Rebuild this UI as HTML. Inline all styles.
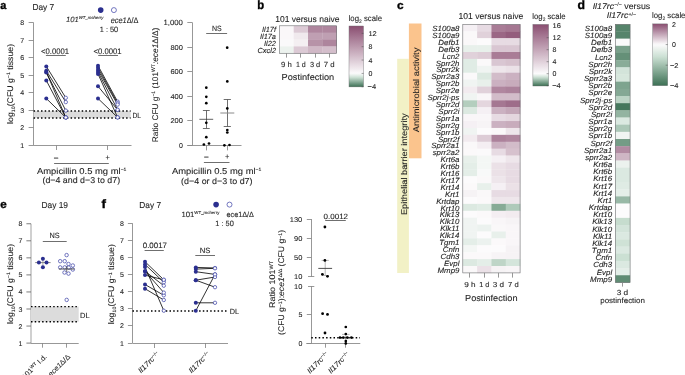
<!DOCTYPE html><html><head><meta charset="utf-8"><style>html,body{margin:0;padding:0;background:#fff;overflow:hidden}svg{display:block} text{filter:grayscale(1);text-rendering:geometricPrecision;stroke:#231f20;stroke-width:0.1px} text.pl{stroke:#000;stroke-width:0.35px}</style></head><body><svg width="685" height="375" viewBox="0 0 685 375" font-family='"Liberation Sans", sans-serif'>
<defs>
<linearGradient id="gc" x1="0" y1="0" x2="0" y2="1"><stop offset="0.000" stop-color="#8a4e71"/><stop offset="0.025" stop-color="#8e5375"/><stop offset="0.050" stop-color="#91597a"/><stop offset="0.075" stop-color="#955e7e"/><stop offset="0.100" stop-color="#986482"/><stop offset="0.125" stop-color="#9c6987"/><stop offset="0.150" stop-color="#9f6e8b"/><stop offset="0.175" stop-color="#a3748f"/><stop offset="0.200" stop-color="#a67994"/><stop offset="0.225" stop-color="#aa7f98"/><stop offset="0.250" stop-color="#ae849c"/><stop offset="0.275" stop-color="#b189a1"/><stop offset="0.300" stop-color="#b58fa5"/><stop offset="0.325" stop-color="#b894a9"/><stop offset="0.350" stop-color="#bc9aae"/><stop offset="0.375" stop-color="#bf9fb2"/><stop offset="0.400" stop-color="#c3a4b6"/><stop offset="0.425" stop-color="#c7aabb"/><stop offset="0.450" stop-color="#caafbf"/><stop offset="0.475" stop-color="#ceb5c4"/><stop offset="0.500" stop-color="#d1bac8"/><stop offset="0.525" stop-color="#d5c0cc"/><stop offset="0.550" stop-color="#d8c5d1"/><stop offset="0.575" stop-color="#dccad5"/><stop offset="0.600" stop-color="#e0d0d9"/><stop offset="0.625" stop-color="#e3d5de"/><stop offset="0.650" stop-color="#e7dbe2"/><stop offset="0.675" stop-color="#eae0e6"/><stop offset="0.700" stop-color="#eee5eb"/><stop offset="0.725" stop-color="#f1ebef"/><stop offset="0.750" stop-color="#f5f0f3"/><stop offset="0.775" stop-color="#f8f6f8"/><stop offset="0.800" stop-color="#fcfbfc"/><stop offset="0.825" stop-color="#e8f0eb"/><stop offset="0.850" stop-color="#d3e4da"/><stop offset="0.875" stop-color="#bcd4c5"/><stop offset="0.900" stop-color="#a2c0af"/><stop offset="0.925" stop-color="#89ac98"/><stop offset="0.950" stop-color="#6f9881"/><stop offset="0.975" stop-color="#56846b"/><stop offset="1.000" stop-color="#3c7054"/></linearGradient>
<linearGradient id="gb" x1="0" y1="0" x2="0" y2="1"><stop offset="0.000" stop-color="#8a4e71"/><stop offset="0.025" stop-color="#8e5475"/><stop offset="0.050" stop-color="#91597a"/><stop offset="0.075" stop-color="#955f7e"/><stop offset="0.100" stop-color="#996483"/><stop offset="0.125" stop-color="#9c6a87"/><stop offset="0.150" stop-color="#a06f8c"/><stop offset="0.175" stop-color="#a47590"/><stop offset="0.200" stop-color="#a77a95"/><stop offset="0.225" stop-color="#ab8099"/><stop offset="0.250" stop-color="#af869e"/><stop offset="0.275" stop-color="#b28ba2"/><stop offset="0.300" stop-color="#b691a7"/><stop offset="0.325" stop-color="#ba96ab"/><stop offset="0.350" stop-color="#bd9caf"/><stop offset="0.375" stop-color="#c1a1b4"/><stop offset="0.400" stop-color="#c5a7b8"/><stop offset="0.425" stop-color="#c8acbd"/><stop offset="0.450" stop-color="#ccb2c1"/><stop offset="0.475" stop-color="#d0b7c6"/><stop offset="0.500" stop-color="#d3bdca"/><stop offset="0.525" stop-color="#d7c3cf"/><stop offset="0.550" stop-color="#dac8d3"/><stop offset="0.575" stop-color="#deced8"/><stop offset="0.600" stop-color="#e2d3dc"/><stop offset="0.625" stop-color="#e5d9e1"/><stop offset="0.650" stop-color="#e9dee5"/><stop offset="0.675" stop-color="#ede4e9"/><stop offset="0.700" stop-color="#f0e9ee"/><stop offset="0.725" stop-color="#f4eff2"/><stop offset="0.750" stop-color="#f8f5f7"/><stop offset="0.775" stop-color="#fbfafb"/><stop offset="0.800" stop-color="#ecf2ef"/><stop offset="0.825" stop-color="#dae8e0"/><stop offset="0.850" stop-color="#c7ddcf"/><stop offset="0.875" stop-color="#b0cabb"/><stop offset="0.900" stop-color="#98b8a6"/><stop offset="0.925" stop-color="#81a692"/><stop offset="0.950" stop-color="#6a947d"/><stop offset="0.975" stop-color="#538269"/><stop offset="1.000" stop-color="#3c7054"/></linearGradient>
<linearGradient id="gd" x1="0" y1="0" x2="0" y2="1"><stop offset="0.000" stop-color="#8a4e71"/><stop offset="0.025" stop-color="#935b7b"/><stop offset="0.050" stop-color="#9b6886"/><stop offset="0.075" stop-color="#a47590"/><stop offset="0.100" stop-color="#ac829b"/><stop offset="0.125" stop-color="#b58fa5"/><stop offset="0.150" stop-color="#bd9cb0"/><stop offset="0.175" stop-color="#c6a9ba"/><stop offset="0.200" stop-color="#ceb6c4"/><stop offset="0.225" stop-color="#d7c3cf"/><stop offset="0.250" stop-color="#e0d0d9"/><stop offset="0.275" stop-color="#e8dde4"/><stop offset="0.300" stop-color="#f1eaee"/><stop offset="0.325" stop-color="#f9f7f9"/><stop offset="0.350" stop-color="#f8f9f9"/><stop offset="0.375" stop-color="#f2f5f3"/><stop offset="0.400" stop-color="#ecf2ee"/><stop offset="0.425" stop-color="#e6efe9"/><stop offset="0.450" stop-color="#dfebe4"/><stop offset="0.475" stop-color="#d9e8df"/><stop offset="0.500" stop-color="#d3e4da"/><stop offset="0.525" stop-color="#cde1d5"/><stop offset="0.550" stop-color="#c6dcce"/><stop offset="0.575" stop-color="#bed6c8"/><stop offset="0.600" stop-color="#b7d0c1"/><stop offset="0.625" stop-color="#afcaba"/><stop offset="0.650" stop-color="#a7c4b3"/><stop offset="0.675" stop-color="#a0beac"/><stop offset="0.700" stop-color="#98b8a6"/><stop offset="0.725" stop-color="#90b29f"/><stop offset="0.750" stop-color="#89ac98"/><stop offset="0.775" stop-color="#81a691"/><stop offset="0.800" stop-color="#79a08a"/><stop offset="0.825" stop-color="#729a84"/><stop offset="0.850" stop-color="#6a947d"/><stop offset="0.875" stop-color="#628e76"/><stop offset="0.900" stop-color="#5b886f"/><stop offset="0.925" stop-color="#538268"/><stop offset="0.950" stop-color="#4b7c62"/><stop offset="0.975" stop-color="#44765b"/><stop offset="1.000" stop-color="#3c7054"/></linearGradient>
</defs>
<rect width="685" height="375" fill="white"/>
<text x="0.30" y="8.80" font-size="11.3" font-weight="bold" fill="#000" class="pl" textLength="6.10" lengthAdjust="spacingAndGlyphs">a</text>
<text x="32.45" y="10.10" font-size="8.59" font-weight="normal" fill="#231f20" textLength="21.80" lengthAdjust="spacingAndGlyphs">Day 7</text>
<circle cx="100.70" cy="10.10" r="2.8" fill="#2b2f8f"/>
<circle cx="113.90" cy="10.10" r="2.5" fill="white" stroke="#3a3fa5" stroke-width="0.7"/>
<text x="65.95" y="22.30" font-size="7.63" font-weight="normal" fill="#231f20" font-style="italic" textLength="37.50" lengthAdjust="spacingAndGlyphs">101<tspan font-size="4.3" dy="-3.6">WT_mcherry</tspan></text>
<text x="110.65" y="22.60" font-size="8.06" font-weight="normal" fill="#231f20" textLength="27.90" lengthAdjust="spacingAndGlyphs"><tspan font-style="italic">ece1</tspan>Δ/Δ</text>
<text x="99.75" y="31.50" font-size="7.63" font-weight="normal" fill="#231f20" textLength="18.40" lengthAdjust="spacingAndGlyphs">1 : 50</text>
<line x1="33.50" y1="22.58" x2="33.50" y2="145.50" stroke="#858585" stroke-width="0.85" />
<line x1="28.60" y1="145.50" x2="33.60" y2="145.50" stroke="#858585" stroke-width="0.85" />
<text x="24.20" y="148.00" font-size="7.0" text-anchor="end" fill="#231f20" >1</text>
<line x1="28.60" y1="127.50" x2="33.60" y2="127.50" stroke="#858585" stroke-width="0.85" />
<text x="24.20" y="130.44" font-size="7.0" text-anchor="end" fill="#231f20" >2</text>
<line x1="28.60" y1="110.50" x2="33.60" y2="110.50" stroke="#858585" stroke-width="0.85" />
<text x="24.20" y="112.88" font-size="7.0" text-anchor="end" fill="#231f20" >3</text>
<line x1="28.60" y1="92.50" x2="33.60" y2="92.50" stroke="#858585" stroke-width="0.85" />
<text x="24.20" y="95.32" font-size="7.0" text-anchor="end" fill="#231f20" >4</text>
<line x1="28.60" y1="75.50" x2="33.60" y2="75.50" stroke="#858585" stroke-width="0.85" />
<text x="24.20" y="77.76" font-size="7.0" text-anchor="end" fill="#231f20" >5</text>
<line x1="28.60" y1="57.50" x2="33.60" y2="57.50" stroke="#858585" stroke-width="0.85" />
<text x="24.20" y="60.20" font-size="7.0" text-anchor="end" fill="#231f20" >6</text>
<line x1="28.60" y1="40.50" x2="33.60" y2="40.50" stroke="#858585" stroke-width="0.85" />
<text x="24.20" y="42.64" font-size="7.0" text-anchor="end" fill="#231f20" >7</text>
<line x1="28.60" y1="22.50" x2="33.60" y2="22.50" stroke="#858585" stroke-width="0.85" />
<text x="24.20" y="25.08" font-size="7.0" text-anchor="end" fill="#231f20" >8</text>
<line x1="33.60" y1="145.50" x2="131.50" y2="145.50" stroke="#858585" stroke-width="0.85" />
<rect x="33.60" y="111.00" width="97.00" height="6.90" fill="#dcdcdc" />
<line x1="33.60" y1="111.00" x2="130.60" y2="111.00" stroke="#000" stroke-width="1.45" stroke-dasharray="1.5,2.2"/>
<line x1="33.60" y1="117.90" x2="130.60" y2="117.90" stroke="#000" stroke-width="1.45" stroke-dasharray="1.5,2.2"/>
<text x="132.45" y="117.60" font-size="7.42" font-weight="normal" fill="#231f20" textLength="8.60" lengthAdjust="spacingAndGlyphs">DL</text>
<line x1="56.50" y1="145.50" x2="56.50" y2="150.00" stroke="#858585" stroke-width="0.85" />
<line x1="107.50" y1="145.50" x2="107.50" y2="150.00" stroke="#858585" stroke-width="0.85" />
<text x="56.00" y="159.70" font-size="7.5" text-anchor="middle" fill="#231f20" >–</text>
<text x="107.80" y="159.90" font-size="7.5" text-anchor="middle" fill="#231f20" >+</text>
<line x1="54.10" y1="163.50" x2="108.80" y2="163.50" stroke="#555" stroke-width="0.85" />
<text x="36.95" y="173.60" font-size="8.59" font-weight="normal" fill="#231f20" textLength="89.50" lengthAdjust="spacingAndGlyphs">Ampicillin 0.5 mg ml<tspan font-size="4.6" dy="-2.8">−1</tspan></text>
<text x="42.45" y="183.40" font-size="8.59" font-weight="normal" fill="#231f20" textLength="77.70" lengthAdjust="spacingAndGlyphs">(d−4 and d−3 to d7)</text>
<text transform="translate(13.00,83.90) rotate(-90)" font-size="8.2" text-anchor="middle" fill="#231f20" textLength="80.00" lengthAdjust="spacingAndGlyphs">log<tspan font-size="5" dy="1.8">10</tspan><tspan dy="-1.8">(CFU g</tspan><tspan font-size="5" dy="-2.8">−1</tspan><tspan dy="2.8"> tissue)</tspan></text>
<text x="41.05" y="53.70" font-size="8.06" font-weight="normal" fill="#231f20" textLength="28.10" lengthAdjust="spacingAndGlyphs">&lt;0.0001</text>
<line x1="45.90" y1="55.50" x2="65.80" y2="55.50" stroke="#555" stroke-width="0.85" />
<text x="93.55" y="53.70" font-size="8.06" font-weight="normal" fill="#231f20" textLength="28.10" lengthAdjust="spacingAndGlyphs">&lt;0.0001</text>
<line x1="98.20" y1="55.50" x2="118.00" y2="55.50" stroke="#555" stroke-width="0.85" />
<line x1="46.30" y1="66.40" x2="65.80" y2="97.80" stroke="#000" stroke-width="0.8" />
<line x1="46.30" y1="70.70" x2="65.80" y2="102.10" stroke="#000" stroke-width="0.8" />
<line x1="46.30" y1="72.10" x2="65.80" y2="117.50" stroke="#000" stroke-width="0.8" />
<line x1="46.30" y1="72.50" x2="65.80" y2="110.60" stroke="#000" stroke-width="0.8" />
<line x1="46.30" y1="80.50" x2="65.80" y2="117.50" stroke="#000" stroke-width="0.8" />
<line x1="46.30" y1="98.50" x2="65.80" y2="117.50" stroke="#000" stroke-width="0.8" />
<circle cx="65.80" cy="97.80" r="1.7" fill="white" stroke="#3a3fa5" stroke-width="0.7"/>
<circle cx="65.80" cy="102.10" r="1.7" fill="white" stroke="#3a3fa5" stroke-width="0.7"/>
<circle cx="65.80" cy="117.50" r="1.7" fill="white" stroke="#3a3fa5" stroke-width="0.7"/>
<circle cx="65.80" cy="110.60" r="1.7" fill="white" stroke="#3a3fa5" stroke-width="0.7"/>
<circle cx="65.80" cy="117.50" r="1.7" fill="white" stroke="#3a3fa5" stroke-width="0.7"/>
<circle cx="65.80" cy="117.50" r="1.7" fill="white" stroke="#3a3fa5" stroke-width="0.7"/>
<circle cx="46.30" cy="66.40" r="2.0" fill="#2b2f8f"/>
<circle cx="46.30" cy="70.70" r="2.0" fill="#2b2f8f"/>
<circle cx="46.30" cy="72.10" r="2.0" fill="#2b2f8f"/>
<circle cx="46.30" cy="72.50" r="2.0" fill="#2b2f8f"/>
<circle cx="46.30" cy="80.50" r="2.0" fill="#2b2f8f"/>
<circle cx="46.30" cy="98.50" r="2.0" fill="#2b2f8f"/>
<line x1="98.00" y1="65.70" x2="117.60" y2="101.60" stroke="#000" stroke-width="0.8" />
<line x1="98.00" y1="67.80" x2="117.60" y2="103.20" stroke="#000" stroke-width="0.8" />
<line x1="98.00" y1="70.00" x2="117.60" y2="104.60" stroke="#000" stroke-width="0.8" />
<line x1="98.00" y1="72.00" x2="117.60" y2="109.80" stroke="#000" stroke-width="0.8" />
<line x1="98.00" y1="73.90" x2="117.60" y2="117.40" stroke="#000" stroke-width="0.8" />
<line x1="98.00" y1="86.30" x2="117.60" y2="109.80" stroke="#000" stroke-width="0.8" />
<line x1="98.00" y1="98.50" x2="117.60" y2="117.40" stroke="#000" stroke-width="0.8" />
<circle cx="117.60" cy="101.60" r="1.7" fill="white" stroke="#3a3fa5" stroke-width="0.7"/>
<circle cx="117.60" cy="103.20" r="1.7" fill="white" stroke="#3a3fa5" stroke-width="0.7"/>
<circle cx="117.60" cy="104.60" r="1.7" fill="white" stroke="#3a3fa5" stroke-width="0.7"/>
<circle cx="117.60" cy="109.80" r="1.7" fill="white" stroke="#3a3fa5" stroke-width="0.7"/>
<circle cx="117.60" cy="117.40" r="1.7" fill="white" stroke="#3a3fa5" stroke-width="0.7"/>
<circle cx="117.60" cy="109.80" r="1.7" fill="white" stroke="#3a3fa5" stroke-width="0.7"/>
<circle cx="117.60" cy="117.40" r="1.7" fill="white" stroke="#3a3fa5" stroke-width="0.7"/>
<circle cx="98.00" cy="65.70" r="2.0" fill="#2b2f8f"/>
<circle cx="98.00" cy="67.80" r="2.0" fill="#2b2f8f"/>
<circle cx="98.00" cy="70.00" r="2.0" fill="#2b2f8f"/>
<circle cx="98.00" cy="72.00" r="2.0" fill="#2b2f8f"/>
<circle cx="98.00" cy="73.90" r="2.0" fill="#2b2f8f"/>
<circle cx="98.00" cy="86.30" r="2.0" fill="#2b2f8f"/>
<circle cx="98.00" cy="98.50" r="2.0" fill="#2b2f8f"/>
<line x1="192.50" y1="22.35" x2="192.50" y2="145.60" stroke="#858585" stroke-width="0.85" />
<line x1="187.30" y1="145.50" x2="192.10" y2="145.50" stroke="#858585" stroke-width="0.85" />
<text x="182.90" y="148.10" font-size="7.0" text-anchor="end" fill="#231f20" >0</text>
<line x1="187.30" y1="120.50" x2="192.10" y2="120.50" stroke="#858585" stroke-width="0.85" />
<text x="182.90" y="123.45" font-size="7.0" text-anchor="end" fill="#231f20"  textLength="12.50" lengthAdjust="spacingAndGlyphs">200</text>
<line x1="187.30" y1="96.50" x2="192.10" y2="96.50" stroke="#858585" stroke-width="0.85" />
<text x="182.90" y="98.80" font-size="7.0" text-anchor="end" fill="#231f20"  textLength="12.50" lengthAdjust="spacingAndGlyphs">400</text>
<line x1="187.30" y1="71.50" x2="192.10" y2="71.50" stroke="#858585" stroke-width="0.85" />
<text x="182.90" y="74.15" font-size="7.0" text-anchor="end" fill="#231f20"  textLength="12.50" lengthAdjust="spacingAndGlyphs">600</text>
<line x1="187.30" y1="47.50" x2="192.10" y2="47.50" stroke="#858585" stroke-width="0.85" />
<text x="182.90" y="49.50" font-size="7.0" text-anchor="end" fill="#231f20"  textLength="12.50" lengthAdjust="spacingAndGlyphs">800</text>
<text x="163.45" y="25.20" font-size="7.53" font-weight="normal" fill="#231f20" textLength="19.40" lengthAdjust="spacingAndGlyphs">1,000</text>
<line x1="187.30" y1="22.50" x2="192.10" y2="22.50" stroke="#858585" stroke-width="0.85" />
<line x1="187.30" y1="145.50" x2="241.50" y2="145.50" stroke="#858585" stroke-width="0.85" />
<line x1="206.50" y1="145.60" x2="206.50" y2="150.40" stroke="#858585" stroke-width="0.85" />
<line x1="227.50" y1="145.60" x2="227.50" y2="150.40" stroke="#858585" stroke-width="0.85" />
<text x="206.40" y="159.20" font-size="7.5" text-anchor="middle" fill="#231f20" >–</text>
<text x="227.30" y="159.40" font-size="7.5" text-anchor="middle" fill="#231f20" >+</text>
<line x1="203.90" y1="162.50" x2="229.50" y2="162.50" stroke="#555" stroke-width="0.85" />
<text x="171.95" y="173.90" font-size="8.59" font-weight="normal" fill="#231f20" textLength="89.40" lengthAdjust="spacingAndGlyphs">Ampicillin 0.5 mg ml<tspan font-size="4.6" dy="-2.8">−1</tspan></text>
<text x="181.05" y="183.60" font-size="8.59" font-weight="normal" fill="#231f20" textLength="71.50" lengthAdjust="spacingAndGlyphs">(d−4 or d−3 to d7)</text>
<text x="212.05" y="30.80" font-size="7.63" font-weight="normal" fill="#231f20" textLength="9.70" lengthAdjust="spacingAndGlyphs">NS</text>
<line x1="206.20" y1="33.50" x2="227.10" y2="33.50" stroke="#555" stroke-width="0.85" />
<text transform="translate(157.50,84.90) rotate(-90)" font-size="8.2" text-anchor="middle" fill="#231f20" textLength="114.60" lengthAdjust="spacingAndGlyphs">Ratio CFU g<tspan font-size="5" dy="-2.8">−1</tspan><tspan dy="2.8"> (101</tspan><tspan font-size="5" dy="-2.8">WT</tspan><tspan dy="2.8" font-style="italic">:ece1</tspan><tspan>Δ/Δ)</tspan></text>
<line x1="206.50" y1="110.30" x2="206.50" y2="128.30" stroke="#555" stroke-width="0.85" />
<line x1="202.90" y1="110.50" x2="209.70" y2="110.50" stroke="#555" stroke-width="0.85" />
<line x1="202.90" y1="128.50" x2="209.70" y2="128.50" stroke="#555" stroke-width="0.85" />
<line x1="199.40" y1="119.30" x2="213.20" y2="119.30" stroke="#3a3a3a" stroke-width="0.8" />
<circle cx="206.30" cy="87.70" r="1.35" fill="#000"/>
<circle cx="206.30" cy="96.80" r="1.35" fill="#000"/>
<circle cx="206.30" cy="103.20" r="1.35" fill="#000"/>
<circle cx="206.30" cy="122.80" r="1.35" fill="#000"/>
<circle cx="206.30" cy="137.20" r="1.35" fill="#000"/>
<circle cx="203.90" cy="144.50" r="1.35" fill="#000"/>
<circle cx="209.00" cy="143.50" r="1.35" fill="#000"/>
<line x1="227.50" y1="99.40" x2="227.50" y2="126.50" stroke="#555" stroke-width="0.85" />
<line x1="223.70" y1="99.50" x2="230.90" y2="99.50" stroke="#555" stroke-width="0.85" />
<line x1="223.70" y1="126.50" x2="230.90" y2="126.50" stroke="#555" stroke-width="0.85" />
<line x1="220.30" y1="113.00" x2="234.30" y2="113.00" stroke="#8a8a8a" stroke-width="1.0" />
<circle cx="227.20" cy="47.70" r="1.35" fill="#000"/>
<circle cx="227.30" cy="81.40" r="1.35" fill="#000"/>
<circle cx="227.30" cy="108.40" r="1.35" fill="#000"/>
<circle cx="227.30" cy="130.00" r="1.35" fill="#000"/>
<circle cx="227.30" cy="132.50" r="1.35" fill="#000"/>
<circle cx="224.40" cy="145.30" r="1.35" fill="#000"/>
<circle cx="229.50" cy="145.00" r="1.35" fill="#000"/>
<text x="257.30" y="8.90" font-size="12.2" font-weight="bold" fill="#000" class="pl" textLength="6.90" lengthAdjust="spacingAndGlyphs">b</text>
<text x="275.25" y="21.70" font-size="8.59" font-weight="normal" fill="#231f20" textLength="64.30" lengthAdjust="spacingAndGlyphs">101 versus naive</text>
<rect x="279.40" y="25.80" width="14.60" height="7.17" fill="#faf7f9" />
<rect x="293.70" y="25.80" width="14.60" height="7.17" fill="#dccad5" />
<rect x="308.00" y="25.80" width="14.60" height="7.17" fill="#af869e" />
<rect x="322.30" y="25.80" width="14.60" height="7.17" fill="#af869e" />
<rect x="279.40" y="32.67" width="14.60" height="7.17" fill="#faf7f9" />
<rect x="293.70" y="32.67" width="14.60" height="7.17" fill="#f0e9ed" />
<rect x="308.00" y="32.67" width="14.60" height="7.17" fill="#bf9fb2" />
<rect x="322.30" y="32.67" width="14.60" height="7.17" fill="#bf9fb2" />
<rect x="279.40" y="39.54" width="14.60" height="7.17" fill="#faf9fa" />
<rect x="293.70" y="39.54" width="14.60" height="7.17" fill="#f4eff2" />
<rect x="308.00" y="39.54" width="14.60" height="7.17" fill="#b793a8" />
<rect x="322.30" y="39.54" width="14.60" height="7.17" fill="#ae859d" />
<rect x="279.40" y="46.41" width="14.60" height="7.17" fill="#ecf2ee" />
<rect x="293.70" y="46.41" width="14.60" height="7.17" fill="#dccad5" />
<rect x="308.00" y="46.41" width="14.60" height="7.17" fill="#d0b8c6" />
<rect x="322.30" y="46.41" width="14.60" height="7.17" fill="#d4becb" />
<rect x="279.4" y="25.8" width="57.2" height="27.48" fill="none" stroke="#6d6e71" stroke-width="0.6"/>
<text x="262.01" y="31.93" font-size="7.4" font-style="italic" fill="#1a1a1a" textLength="13.99" lengthAdjust="spacingAndGlyphs">Il17f</text>
<text x="259.95" y="38.81" font-size="7.4" font-style="italic" fill="#1a1a1a" textLength="16.05" lengthAdjust="spacingAndGlyphs">Il17a</text>
<text x="264.07" y="45.68" font-size="7.4" font-style="italic" fill="#1a1a1a" textLength="11.93" lengthAdjust="spacingAndGlyphs">Il22</text>
<text x="257.50" y="52.55" font-size="7.4" font-style="italic" fill="#1a1a1a" textLength="18.50" lengthAdjust="spacingAndGlyphs">Cxcl2</text>
<line x1="286.50" y1="53.28" x2="286.50" y2="57.60" stroke="#858585" stroke-width="0.85" />
<text x="281.05" y="66.80" font-size="7.42" font-weight="normal" fill="#231f20" textLength="10.80" lengthAdjust="spacingAndGlyphs">9 h</text>
<line x1="300.50" y1="53.28" x2="300.50" y2="57.60" stroke="#858585" stroke-width="0.85" />
<text x="295.95" y="66.80" font-size="7.42" font-weight="normal" fill="#231f20" textLength="9.80" lengthAdjust="spacingAndGlyphs">1 d</text>
<line x1="315.50" y1="53.28" x2="315.50" y2="57.60" stroke="#858585" stroke-width="0.85" />
<text x="309.95" y="66.80" font-size="7.42" font-weight="normal" fill="#231f20" textLength="10.30" lengthAdjust="spacingAndGlyphs">3 d</text>
<line x1="329.50" y1="53.28" x2="329.50" y2="57.60" stroke="#858585" stroke-width="0.85" />
<text x="323.85" y="66.80" font-size="7.42" font-weight="normal" fill="#231f20" textLength="10.80" lengthAdjust="spacingAndGlyphs">7 d</text>
<text x="281.55" y="80.00" font-size="8.69" font-weight="normal" fill="#231f20" textLength="52.60" lengthAdjust="spacingAndGlyphs">Postinfection</text>
<rect x="349.00" y="26.00" width="14.50" height="60.90" fill="url(#gb)" />
<rect x="349" y="26" width="14.5" height="60.9" fill="none" stroke="#6d6e71" stroke-width="0.4"/>
<line x1="361.60" y1="33.32" x2="363.50" y2="33.32" stroke="#444" stroke-width="0.5" />
<text x="368.40" y="35.82" font-size="7" text-anchor="start" fill="#231f20"  textLength="8.33" lengthAdjust="spacingAndGlyphs">12</text>
<line x1="361.60" y1="46.68" x2="363.50" y2="46.68" stroke="#444" stroke-width="0.5" />
<text x="368.40" y="49.18" font-size="7" text-anchor="start" fill="#231f20" >8</text>
<line x1="361.60" y1="60.04" x2="363.50" y2="60.04" stroke="#444" stroke-width="0.5" />
<text x="368.40" y="62.54" font-size="7" text-anchor="start" fill="#231f20" >4</text>
<line x1="361.60" y1="73.40" x2="363.50" y2="73.40" stroke="#444" stroke-width="0.5" />
<text x="368.40" y="75.90" font-size="7" text-anchor="start" fill="#231f20" >0</text>
<line x1="361.60" y1="86.76" x2="363.50" y2="86.76" stroke="#444" stroke-width="0.5" />
<text x="367.60" y="89.26" font-size="7" text-anchor="start" fill="#231f20"  textLength="8.54" lengthAdjust="spacingAndGlyphs">−4</text>
<text x="348.65" y="20.70" font-size="8.06" font-weight="normal" fill="#231f20" textLength="33.40" lengthAdjust="spacingAndGlyphs">log<tspan font-size="5" dy="1.8">2</tspan><tspan dy="-1.8"> scale</tspan></text>
<text x="397.00" y="9.20" font-size="11.3" font-weight="bold" fill="#000" class="pl" textLength="6.60" lengthAdjust="spacingAndGlyphs">c</text>
<text x="458.55" y="19.00" font-size="8.59" font-weight="normal" fill="#231f20" textLength="64.80" lengthAdjust="spacingAndGlyphs">101 versus naive</text>
<rect x="462.80" y="24.40" width="14.62" height="7.20" fill="#f5f0f4" />
<rect x="477.12" y="24.40" width="14.62" height="7.20" fill="#e7dbe3" />
<rect x="491.44" y="24.40" width="14.62" height="7.20" fill="#a97c96" />
<rect x="505.76" y="24.40" width="14.62" height="7.20" fill="#a57792" />
<rect x="462.80" y="31.30" width="14.62" height="7.20" fill="#faf8f9" />
<rect x="477.12" y="31.30" width="14.62" height="7.20" fill="#e0d1da" />
<rect x="491.44" y="31.30" width="14.62" height="7.20" fill="#9b6785" />
<rect x="505.76" y="31.30" width="14.62" height="7.20" fill="#945d7d" />
<rect x="462.80" y="38.21" width="14.62" height="7.20" fill="#faf8f9" />
<rect x="477.12" y="38.21" width="14.62" height="7.20" fill="#fcfbfc" />
<rect x="491.44" y="38.21" width="14.62" height="7.20" fill="#e7dbe3" />
<rect x="505.76" y="38.21" width="14.62" height="7.20" fill="#e7dbe3" />
<rect x="462.80" y="45.11" width="14.62" height="7.20" fill="#e8f0eb" />
<rect x="477.12" y="45.11" width="14.62" height="7.20" fill="#e8f0eb" />
<rect x="491.44" y="45.11" width="14.62" height="7.20" fill="#d9c6d2" />
<rect x="505.76" y="45.11" width="14.62" height="7.20" fill="#d9c6d2" />
<rect x="462.80" y="52.01" width="14.62" height="7.20" fill="#e0d1da" />
<rect x="477.12" y="52.01" width="14.62" height="7.20" fill="#ddccd6" />
<rect x="491.44" y="52.01" width="14.62" height="7.20" fill="#a97c96" />
<rect x="505.76" y="52.01" width="14.62" height="7.20" fill="#a97c96" />
<rect x="462.80" y="58.91" width="14.62" height="7.20" fill="#e0ece5" />
<rect x="477.12" y="58.91" width="14.62" height="7.20" fill="#fbf9fa" />
<rect x="491.44" y="58.91" width="14.62" height="7.20" fill="#d9c6d2" />
<rect x="505.76" y="58.91" width="14.62" height="7.20" fill="#d6c1cd" />
<rect x="462.80" y="65.82" width="14.62" height="7.20" fill="#e0ece5" />
<rect x="477.12" y="65.82" width="14.62" height="7.20" fill="#f0f4f2" />
<rect x="491.44" y="65.82" width="14.62" height="7.20" fill="#eee6eb" />
<rect x="505.76" y="65.82" width="14.62" height="7.20" fill="#ebe1e7" />
<rect x="462.80" y="72.72" width="14.62" height="7.20" fill="#fbf9fa" />
<rect x="477.12" y="72.72" width="14.62" height="7.20" fill="#dce9e1" />
<rect x="491.44" y="72.72" width="14.62" height="7.20" fill="#d2bcc9" />
<rect x="505.76" y="72.72" width="14.62" height="7.20" fill="#cbb1c1" />
<rect x="462.80" y="79.62" width="14.62" height="7.20" fill="#f0f4f2" />
<rect x="477.12" y="79.62" width="14.62" height="7.20" fill="#e8f0eb" />
<rect x="491.44" y="79.62" width="14.62" height="7.20" fill="#cbb1c1" />
<rect x="505.76" y="79.62" width="14.62" height="7.20" fill="#c8acbc" />
<rect x="462.80" y="86.53" width="14.62" height="7.20" fill="#f2ebef" />
<rect x="477.12" y="86.53" width="14.62" height="7.20" fill="#e0d1da" />
<rect x="491.44" y="86.53" width="14.62" height="7.20" fill="#b0879f" />
<rect x="505.76" y="86.53" width="14.62" height="7.20" fill="#ac829b" />
<rect x="462.80" y="93.43" width="14.62" height="7.20" fill="#f0f4f2" />
<rect x="477.12" y="93.43" width="14.62" height="7.20" fill="#f9f6f8" />
<rect x="491.44" y="93.43" width="14.62" height="7.20" fill="#d2bcc9" />
<rect x="505.76" y="93.43" width="14.62" height="7.20" fill="#d2bcc9" />
<rect x="462.80" y="100.33" width="14.62" height="7.20" fill="#b4cebe" />
<rect x="477.12" y="100.33" width="14.62" height="7.20" fill="#e4d6de" />
<rect x="491.44" y="100.33" width="14.62" height="7.20" fill="#a57792" />
<rect x="505.76" y="100.33" width="14.62" height="7.20" fill="#9e6d8a" />
<rect x="462.80" y="107.23" width="14.62" height="7.20" fill="#dce9e1" />
<rect x="477.12" y="107.23" width="14.62" height="7.20" fill="#f5f0f4" />
<rect x="491.44" y="107.23" width="14.62" height="7.20" fill="#cbb1c1" />
<rect x="505.76" y="107.23" width="14.62" height="7.20" fill="#c4a7b8" />
<rect x="462.80" y="114.14" width="14.62" height="7.20" fill="#f9f6f8" />
<rect x="477.12" y="114.14" width="14.62" height="7.20" fill="#f9f6f8" />
<rect x="491.44" y="114.14" width="14.62" height="7.20" fill="#e7dbe3" />
<rect x="505.76" y="114.14" width="14.62" height="7.20" fill="#e4d6de" />
<rect x="462.80" y="121.04" width="14.62" height="7.20" fill="#f5f0f4" />
<rect x="477.12" y="121.04" width="14.62" height="7.20" fill="#f7f4f6" />
<rect x="491.44" y="121.04" width="14.62" height="7.20" fill="#cbb1c1" />
<rect x="505.76" y="121.04" width="14.62" height="7.20" fill="#c8acbc" />
<rect x="462.80" y="127.94" width="14.62" height="7.20" fill="#f0f4f2" />
<rect x="477.12" y="127.94" width="14.62" height="7.20" fill="#fcfbfc" />
<rect x="491.44" y="127.94" width="14.62" height="7.20" fill="#faf8f9" />
<rect x="505.76" y="127.94" width="14.62" height="7.20" fill="#eee6eb" />
<rect x="462.80" y="134.84" width="14.62" height="7.20" fill="#f2ebef" />
<rect x="477.12" y="134.84" width="14.62" height="7.20" fill="#ddccd6" />
<rect x="491.44" y="134.84" width="14.62" height="7.20" fill="#ac829b" />
<rect x="505.76" y="134.84" width="14.62" height="7.20" fill="#b0879f" />
<rect x="462.80" y="141.75" width="14.62" height="7.20" fill="#faf8f9" />
<rect x="477.12" y="141.75" width="14.62" height="7.20" fill="#f4eef2" />
<rect x="491.44" y="141.75" width="14.62" height="7.20" fill="#cbb1c1" />
<rect x="505.76" y="141.75" width="14.62" height="7.20" fill="#d2bcc9" />
<rect x="462.80" y="148.65" width="14.62" height="7.20" fill="#fbf9fa" />
<rect x="477.12" y="148.65" width="14.62" height="7.20" fill="#fbfafb" />
<rect x="491.44" y="148.65" width="14.62" height="7.20" fill="#e7dbe3" />
<rect x="505.76" y="148.65" width="14.62" height="7.20" fill="#d6c1cd" />
<rect x="462.80" y="155.55" width="14.62" height="7.20" fill="#e8f0eb" />
<rect x="477.12" y="155.55" width="14.62" height="7.20" fill="#f4f7f5" />
<rect x="491.44" y="155.55" width="14.62" height="7.20" fill="#f5f0f4" />
<rect x="505.76" y="155.55" width="14.62" height="7.20" fill="#eee6eb" />
<rect x="462.80" y="162.46" width="14.62" height="7.20" fill="#e4eee8" />
<rect x="477.12" y="162.46" width="14.62" height="7.20" fill="#f4f7f5" />
<rect x="491.44" y="162.46" width="14.62" height="7.20" fill="#ebe1e7" />
<rect x="505.76" y="162.46" width="14.62" height="7.20" fill="#e7dbe3" />
<rect x="462.80" y="169.36" width="14.62" height="7.20" fill="#e4eee8" />
<rect x="477.12" y="169.36" width="14.62" height="7.20" fill="#f8f9f9" />
<rect x="491.44" y="169.36" width="14.62" height="7.20" fill="#ebe1e7" />
<rect x="505.76" y="169.36" width="14.62" height="7.20" fill="#e7dbe3" />
<rect x="462.80" y="176.26" width="14.62" height="7.20" fill="#fcfbfc" />
<rect x="477.12" y="176.26" width="14.62" height="7.20" fill="#faf8f9" />
<rect x="491.44" y="176.26" width="14.62" height="7.20" fill="#eee6eb" />
<rect x="505.76" y="176.26" width="14.62" height="7.20" fill="#e7dbe3" />
<rect x="462.80" y="183.16" width="14.62" height="7.20" fill="#fbf9fa" />
<rect x="477.12" y="183.16" width="14.62" height="7.20" fill="#e8f0eb" />
<rect x="491.44" y="183.16" width="14.62" height="7.20" fill="#f5f0f4" />
<rect x="505.76" y="183.16" width="14.62" height="7.20" fill="#ebe1e7" />
<rect x="462.80" y="190.07" width="14.62" height="7.20" fill="#f6f3f5" />
<rect x="477.12" y="190.07" width="14.62" height="7.20" fill="#faf8f9" />
<rect x="491.44" y="190.07" width="14.62" height="7.20" fill="#e7dbe3" />
<rect x="505.76" y="190.07" width="14.62" height="7.20" fill="#e7dbe3" />
<rect x="462.80" y="196.97" width="14.62" height="7.20" fill="#fcfbfc" />
<rect x="477.12" y="196.97" width="14.62" height="7.20" fill="#fbf9fa" />
<rect x="491.44" y="196.97" width="14.62" height="7.20" fill="#eee6eb" />
<rect x="505.76" y="196.97" width="14.62" height="7.20" fill="#eee6eb" />
<rect x="462.80" y="203.87" width="14.62" height="7.20" fill="#dce9e1" />
<rect x="477.12" y="203.87" width="14.62" height="7.20" fill="#e0ece5" />
<rect x="491.44" y="203.87" width="14.62" height="7.20" fill="#87ab96" />
<rect x="505.76" y="203.87" width="14.62" height="7.20" fill="#afcaba" />
<rect x="462.80" y="210.78" width="14.62" height="7.20" fill="#fcfbfc" />
<rect x="477.12" y="210.78" width="14.62" height="7.20" fill="#fbf9fa" />
<rect x="491.44" y="210.78" width="14.62" height="7.20" fill="#f4eef2" />
<rect x="505.76" y="210.78" width="14.62" height="7.20" fill="#f2ebef" />
<rect x="462.80" y="217.68" width="14.62" height="7.20" fill="#f0f4f2" />
<rect x="477.12" y="217.68" width="14.62" height="7.20" fill="#fcfbfc" />
<rect x="491.44" y="217.68" width="14.62" height="7.20" fill="#f9f6f8" />
<rect x="505.76" y="217.68" width="14.62" height="7.20" fill="#f6f3f5" />
<rect x="462.80" y="224.58" width="14.62" height="7.20" fill="#f0f4f2" />
<rect x="477.12" y="224.58" width="14.62" height="7.20" fill="#ecf2ef" />
<rect x="491.44" y="224.58" width="14.62" height="7.20" fill="#faf8f9" />
<rect x="505.76" y="224.58" width="14.62" height="7.20" fill="#f9f6f8" />
<rect x="462.80" y="231.48" width="14.62" height="7.20" fill="#f0f4f2" />
<rect x="477.12" y="231.48" width="14.62" height="7.20" fill="#fcfbfc" />
<rect x="491.44" y="231.48" width="14.62" height="7.20" fill="#e8f0eb" />
<rect x="505.76" y="231.48" width="14.62" height="7.20" fill="#f9f6f8" />
<rect x="462.80" y="238.39" width="14.62" height="7.20" fill="#e4eee8" />
<rect x="477.12" y="238.39" width="14.62" height="7.20" fill="#ecf2ef" />
<rect x="491.44" y="238.39" width="14.62" height="7.20" fill="#fbf9fa" />
<rect x="505.76" y="238.39" width="14.62" height="7.20" fill="#f9f6f8" />
<rect x="462.80" y="245.29" width="14.62" height="7.20" fill="#f4f7f5" />
<rect x="477.12" y="245.29" width="14.62" height="7.20" fill="#fcfbfc" />
<rect x="491.44" y="245.29" width="14.62" height="7.20" fill="#fcfbfc" />
<rect x="505.76" y="245.29" width="14.62" height="7.20" fill="#f6f3f5" />
<rect x="462.80" y="252.19" width="14.62" height="7.20" fill="#fbf9fa" />
<rect x="477.12" y="252.19" width="14.62" height="7.20" fill="#fbf9fa" />
<rect x="491.44" y="252.19" width="14.62" height="7.20" fill="#f7f4f6" />
<rect x="505.76" y="252.19" width="14.62" height="7.20" fill="#f6f3f5" />
<rect x="462.80" y="259.09" width="14.62" height="7.20" fill="#dce9e1" />
<rect x="477.12" y="259.09" width="14.62" height="7.20" fill="#e4eee8" />
<rect x="491.44" y="259.09" width="14.62" height="7.20" fill="#bed5c7" />
<rect x="505.76" y="259.09" width="14.62" height="7.20" fill="#d4e5db" />
<rect x="462.80" y="266.00" width="14.62" height="7.20" fill="#faf8f9" />
<rect x="477.12" y="266.00" width="14.62" height="7.20" fill="#ebe1e7" />
<rect x="491.44" y="266.00" width="14.62" height="7.20" fill="#f6f3f5" />
<rect x="505.76" y="266.00" width="14.62" height="7.20" fill="#f8f5f7" />
<rect x="462.8" y="24.4" width="57.28" height="248.5" fill="none" stroke="#6d6e71" stroke-width="0.6"/>
<text x="432.25" y="31.05" font-size="7.5" font-style="italic" fill="#1a1a1a" textLength="27.15" lengthAdjust="spacingAndGlyphs">S100a8</text>
<text x="432.25" y="37.95" font-size="7.5" font-style="italic" fill="#1a1a1a" textLength="27.15" lengthAdjust="spacingAndGlyphs">S100a9</text>
<text x="438.39" y="44.86" font-size="7.5" font-style="italic" fill="#1a1a1a" textLength="21.01" lengthAdjust="spacingAndGlyphs">Defb1</text>
<text x="438.39" y="51.76" font-size="7.5" font-style="italic" fill="#1a1a1a" textLength="21.01" lengthAdjust="spacingAndGlyphs">Defb3</text>
<text x="442.32" y="58.66" font-size="7.5" font-style="italic" fill="#1a1a1a" textLength="17.08" lengthAdjust="spacingAndGlyphs">Lcn2</text>
<text x="435.77" y="65.57" font-size="7.5" font-style="italic" fill="#1a1a1a" textLength="23.63" lengthAdjust="spacingAndGlyphs">Sprr2h</text>
<text x="436.21" y="72.47" font-size="7.5" font-style="italic" fill="#1a1a1a" textLength="23.19" lengthAdjust="spacingAndGlyphs">Sprr2k</text>
<text x="431.39" y="79.37" font-size="7.5" font-style="italic" fill="#1a1a1a" textLength="28.01" lengthAdjust="spacingAndGlyphs">Sprr2a3</text>
<text x="435.77" y="86.27" font-size="7.5" font-style="italic" fill="#1a1a1a" textLength="23.63" lengthAdjust="spacingAndGlyphs">Sprr2b</text>
<text x="435.77" y="93.18" font-size="7.5" font-style="italic" fill="#1a1a1a" textLength="23.63" lengthAdjust="spacingAndGlyphs">Sprr2e</text>
<text x="427.46" y="100.08" font-size="7.5" font-style="italic" fill="#1a1a1a" textLength="31.94" lengthAdjust="spacingAndGlyphs">Sprr2j-ps</text>
<text x="435.77" y="106.98" font-size="7.5" font-style="italic" fill="#1a1a1a" textLength="23.63" lengthAdjust="spacingAndGlyphs">Sprr2d</text>
<text x="438.39" y="113.88" font-size="7.5" font-style="italic" fill="#1a1a1a" textLength="21.01" lengthAdjust="spacingAndGlyphs">Sprr2i</text>
<text x="435.77" y="120.79" font-size="7.5" font-style="italic" fill="#1a1a1a" textLength="23.63" lengthAdjust="spacingAndGlyphs">Sprr1a</text>
<text x="435.77" y="127.69" font-size="7.5" font-style="italic" fill="#1a1a1a" textLength="23.63" lengthAdjust="spacingAndGlyphs">Sprr2g</text>
<text x="435.77" y="134.59" font-size="7.5" font-style="italic" fill="#1a1a1a" textLength="23.63" lengthAdjust="spacingAndGlyphs">Sprr1b</text>
<text x="437.96" y="141.50" font-size="7.5" font-style="italic" fill="#1a1a1a" textLength="21.44" lengthAdjust="spacingAndGlyphs">Sprr2f</text>
<text x="431.39" y="148.40" font-size="7.5" font-style="italic" fill="#1a1a1a" textLength="28.01" lengthAdjust="spacingAndGlyphs">Sprr2a1</text>
<text x="432.70" y="155.30" font-size="7.5" font-style="italic" fill="#1a1a1a" textLength="26.70" lengthAdjust="spacingAndGlyphs">sprr2a2</text>
<text x="440.58" y="162.20" font-size="7.5" font-style="italic" fill="#1a1a1a" textLength="18.82" lengthAdjust="spacingAndGlyphs">Krt6a</text>
<text x="440.58" y="169.11" font-size="7.5" font-style="italic" fill="#1a1a1a" textLength="18.82" lengthAdjust="spacingAndGlyphs">Krt6b</text>
<text x="440.58" y="176.01" font-size="7.5" font-style="italic" fill="#1a1a1a" textLength="18.82" lengthAdjust="spacingAndGlyphs">Krt16</text>
<text x="440.58" y="182.91" font-size="7.5" font-style="italic" fill="#1a1a1a" textLength="18.82" lengthAdjust="spacingAndGlyphs">Krt17</text>
<text x="440.58" y="189.82" font-size="7.5" font-style="italic" fill="#1a1a1a" textLength="18.82" lengthAdjust="spacingAndGlyphs">Krt14</text>
<text x="444.96" y="196.72" font-size="7.5" font-style="italic" fill="#1a1a1a" textLength="14.44" lengthAdjust="spacingAndGlyphs">Krt1</text>
<text x="436.20" y="203.62" font-size="7.5" font-style="italic" fill="#1a1a1a" textLength="23.20" lengthAdjust="spacingAndGlyphs">Krtdap</text>
<text x="440.58" y="210.52" font-size="7.5" font-style="italic" fill="#1a1a1a" textLength="18.82" lengthAdjust="spacingAndGlyphs">Krt10</text>
<text x="439.70" y="217.43" font-size="7.5" font-style="italic" fill="#1a1a1a" textLength="19.70" lengthAdjust="spacingAndGlyphs">Klk13</text>
<text x="439.70" y="224.33" font-size="7.5" font-style="italic" fill="#1a1a1a" textLength="19.70" lengthAdjust="spacingAndGlyphs">Klk10</text>
<text x="440.29" y="231.23" font-size="7.5" font-style="italic" fill="#1a1a1a" textLength="19.11" lengthAdjust="spacingAndGlyphs">Klk11</text>
<text x="439.70" y="238.13" font-size="7.5" font-style="italic" fill="#1a1a1a" textLength="19.70" lengthAdjust="spacingAndGlyphs">Klk14</text>
<text x="439.27" y="245.04" font-size="7.5" font-style="italic" fill="#1a1a1a" textLength="20.13" lengthAdjust="spacingAndGlyphs">Tgm1</text>
<text x="442.77" y="251.94" font-size="7.5" font-style="italic" fill="#1a1a1a" textLength="16.63" lengthAdjust="spacingAndGlyphs">Cnfn</text>
<text x="440.58" y="258.84" font-size="7.5" font-style="italic" fill="#1a1a1a" textLength="18.82" lengthAdjust="spacingAndGlyphs">Cdh3</text>
<text x="444.08" y="265.75" font-size="7.5" font-style="italic" fill="#1a1a1a" textLength="15.32" lengthAdjust="spacingAndGlyphs">Evpl</text>
<text x="437.52" y="272.65" font-size="7.5" font-style="italic" fill="#1a1a1a" textLength="21.88" lengthAdjust="spacingAndGlyphs">Mmp9</text>
<line x1="469.50" y1="272.90" x2="469.50" y2="277.60" stroke="#858585" stroke-width="0.85" />
<text x="464.25" y="286.80" font-size="7.21" font-weight="normal" fill="#231f20" textLength="11.40" lengthAdjust="spacingAndGlyphs">9 h</text>
<line x1="484.50" y1="272.90" x2="484.50" y2="277.60" stroke="#858585" stroke-width="0.85" />
<text x="479.25" y="286.80" font-size="7.21" font-weight="normal" fill="#231f20" textLength="10.10" lengthAdjust="spacingAndGlyphs">1 d</text>
<line x1="498.50" y1="272.90" x2="498.50" y2="277.60" stroke="#858585" stroke-width="0.85" />
<text x="492.75" y="286.80" font-size="7.21" font-weight="normal" fill="#231f20" textLength="11.30" lengthAdjust="spacingAndGlyphs">3 d</text>
<line x1="512.50" y1="272.90" x2="512.50" y2="277.60" stroke="#858585" stroke-width="0.85" />
<text x="508.05" y="286.80" font-size="7.21" font-weight="normal" fill="#231f20" textLength="10.60" lengthAdjust="spacingAndGlyphs">7 d</text>
<text x="465.05" y="300.60" font-size="8.69" font-weight="normal" fill="#231f20" textLength="52.50" lengthAdjust="spacingAndGlyphs">Postinfection</text>
<rect x="408.90" y="23.50" width="12.60" height="134.80" fill="#fbc48d" />
<rect x="397.20" y="58.80" width="11.70" height="214.20" fill="#f2f1c6" />
<text transform="translate(419.20,90.00) rotate(-90)" font-size="8.3" text-anchor="middle" fill="#231f20" textLength="84.70" lengthAdjust="spacingAndGlyphs">Antimicrobial activity</text>
<text transform="translate(406.80,164.20) rotate(-90)" font-size="8.3" text-anchor="middle" fill="#231f20" textLength="101.80" lengthAdjust="spacingAndGlyphs">Epithelial barrier integrity</text>
<rect x="532.90" y="24.40" width="15.70" height="61.60" fill="url(#gc)" />
<rect x="532.9" y="24.4" width="15.7" height="61.6" fill="none" stroke="#6d6e71" stroke-width="0.4"/>
<text x="552.50" y="28.20" font-size="7" text-anchor="start" fill="#231f20"  textLength="8.33" lengthAdjust="spacingAndGlyphs">16</text>
<line x1="546.60" y1="37.70" x2="548.60" y2="37.70" stroke="#444" stroke-width="0.5" />
<text x="552.50" y="40.20" font-size="7" text-anchor="start" fill="#231f20"  textLength="8.33" lengthAdjust="spacingAndGlyphs">12</text>
<line x1="546.60" y1="49.70" x2="548.60" y2="49.70" stroke="#444" stroke-width="0.5" />
<text x="552.50" y="52.20" font-size="7" text-anchor="start" fill="#231f20" >8</text>
<line x1="546.60" y1="61.70" x2="548.60" y2="61.70" stroke="#444" stroke-width="0.5" />
<text x="552.50" y="64.20" font-size="7" text-anchor="start" fill="#231f20" >4</text>
<line x1="546.60" y1="73.70" x2="548.60" y2="73.70" stroke="#444" stroke-width="0.5" />
<text x="552.50" y="76.20" font-size="7" text-anchor="start" fill="#231f20" >0</text>
<line x1="546.60" y1="85.70" x2="548.60" y2="85.70" stroke="#444" stroke-width="0.5" />
<text x="552.20" y="88.20" font-size="7" text-anchor="start" fill="#231f20"  textLength="8.54" lengthAdjust="spacingAndGlyphs">−4</text>
<text x="532.25" y="18.70" font-size="8.06" font-weight="normal" fill="#231f20" textLength="33.40" lengthAdjust="spacingAndGlyphs">log<tspan font-size="5" dy="1.8">2</tspan><tspan dy="-1.8"> scale</tspan></text>
<text x="577.40" y="8.90" font-size="12.2" font-weight="bold" fill="#000" class="pl" textLength="7.50" lengthAdjust="spacingAndGlyphs">d</text>
<text x="592.65" y="8.90" font-size="8.37" font-weight="normal" fill="#231f20" textLength="57.60" lengthAdjust="spacingAndGlyphs"><tspan font-style="italic">Il17rc</tspan><tspan font-size="5" dy="-2.9">−/−</tspan><tspan dy="2.9"> versus</tspan></text>
<text x="606.75" y="18.40" font-size="8.37" font-weight="normal" fill="#231f20" textLength="29.30" lengthAdjust="spacingAndGlyphs"><tspan font-style="italic">Il17rc</tspan><tspan font-size="5" dy="-2.9">+/−</tspan></text>
<rect x="615.30" y="24.30" width="14.80" height="7.47" fill="#56846b" />
<rect x="615.30" y="31.47" width="14.80" height="7.47" fill="#56846b" />
<rect x="615.30" y="38.64" width="14.80" height="7.47" fill="#fafafa" />
<rect x="615.30" y="45.81" width="14.80" height="7.47" fill="#79a08a" />
<rect x="615.30" y="52.98" width="14.80" height="7.47" fill="#659078" />
<rect x="615.30" y="60.15" width="14.80" height="7.47" fill="#89ac98" />
<rect x="615.30" y="67.32" width="14.80" height="7.47" fill="#d3e4da" />
<rect x="615.30" y="74.49" width="14.80" height="7.47" fill="#d7e7dd" />
<rect x="615.30" y="81.66" width="14.80" height="7.47" fill="#7ea48f" />
<rect x="615.30" y="88.83" width="14.80" height="7.47" fill="#84a894" />
<rect x="615.30" y="95.99" width="14.80" height="7.47" fill="#bcd4c5" />
<rect x="615.30" y="103.16" width="14.80" height="7.47" fill="#46785d" />
<rect x="615.30" y="110.33" width="14.80" height="7.47" fill="#93b4a1" />
<rect x="615.30" y="117.50" width="14.80" height="7.47" fill="#dbe9e1" />
<rect x="615.30" y="124.67" width="14.80" height="7.47" fill="#acc8b8" />
<rect x="615.30" y="131.84" width="14.80" height="7.47" fill="#f0f4f2" />
<rect x="615.30" y="139.01" width="14.80" height="7.47" fill="#749c86" />
<rect x="615.30" y="146.18" width="14.80" height="7.47" fill="#b28ba2" />
<rect x="615.30" y="153.35" width="14.80" height="7.47" fill="#ceb6c4" />
<rect x="615.30" y="160.52" width="14.80" height="7.47" fill="#ecf2ee" />
<rect x="615.30" y="167.69" width="14.80" height="7.47" fill="#dbe9e1" />
<rect x="615.30" y="174.86" width="14.80" height="7.47" fill="#dbe9e1" />
<rect x="615.30" y="182.03" width="14.80" height="7.47" fill="#dfebe4" />
<rect x="615.30" y="189.20" width="14.80" height="7.47" fill="#e4eee8" />
<rect x="615.30" y="196.37" width="14.80" height="7.47" fill="#98b8a6" />
<rect x="615.30" y="203.54" width="14.80" height="7.47" fill="#fcfbfc" />
<rect x="615.30" y="210.71" width="14.80" height="7.47" fill="#fcfbfc" />
<rect x="615.30" y="217.88" width="14.80" height="7.47" fill="#c6dcce" />
<rect x="615.30" y="225.04" width="14.80" height="7.47" fill="#d3e4da" />
<rect x="615.30" y="232.21" width="14.80" height="7.47" fill="#dbe9e1" />
<rect x="615.30" y="239.38" width="14.80" height="7.47" fill="#cfe2d6" />
<rect x="615.30" y="246.55" width="14.80" height="7.47" fill="#dbe9e1" />
<rect x="615.30" y="253.72" width="14.80" height="7.47" fill="#cbe0d3" />
<rect x="615.30" y="260.89" width="14.80" height="7.47" fill="#dbe9e1" />
<rect x="615.30" y="268.06" width="14.80" height="7.47" fill="#e4eee8" />
<rect x="615.30" y="275.23" width="14.80" height="7.47" fill="#608c74" />
<rect x="615.3" y="24.3" width="14.8" height="258.1" fill="none" stroke="#6d6e71" stroke-width="0.6"/>
<text x="584.79" y="30.88" font-size="7.5" font-style="italic" fill="#1a1a1a" textLength="27.41" lengthAdjust="spacingAndGlyphs">S100a8</text>
<text x="584.79" y="38.05" font-size="7.5" font-style="italic" fill="#1a1a1a" textLength="27.41" lengthAdjust="spacingAndGlyphs">S100a9</text>
<text x="590.99" y="45.22" font-size="7.5" font-style="italic" fill="#1a1a1a" textLength="21.21" lengthAdjust="spacingAndGlyphs">Defb1</text>
<text x="590.99" y="52.39" font-size="7.5" font-style="italic" fill="#1a1a1a" textLength="21.21" lengthAdjust="spacingAndGlyphs">Defb3</text>
<text x="594.96" y="59.56" font-size="7.5" font-style="italic" fill="#1a1a1a" textLength="17.24" lengthAdjust="spacingAndGlyphs">Lcn2</text>
<text x="588.34" y="66.73" font-size="7.5" font-style="italic" fill="#1a1a1a" textLength="23.86" lengthAdjust="spacingAndGlyphs">Sprr2h</text>
<text x="588.79" y="73.90" font-size="7.5" font-style="italic" fill="#1a1a1a" textLength="23.41" lengthAdjust="spacingAndGlyphs">Sprr2k</text>
<text x="583.92" y="81.07" font-size="7.5" font-style="italic" fill="#1a1a1a" textLength="28.28" lengthAdjust="spacingAndGlyphs">Sprr2a3</text>
<text x="588.34" y="88.24" font-size="7.5" font-style="italic" fill="#1a1a1a" textLength="23.86" lengthAdjust="spacingAndGlyphs">Sprr2b</text>
<text x="588.34" y="95.41" font-size="7.5" font-style="italic" fill="#1a1a1a" textLength="23.86" lengthAdjust="spacingAndGlyphs">Sprr2e</text>
<text x="579.95" y="102.58" font-size="7.5" font-style="italic" fill="#1a1a1a" textLength="32.25" lengthAdjust="spacingAndGlyphs">Sprr2j-ps</text>
<text x="588.34" y="109.75" font-size="7.5" font-style="italic" fill="#1a1a1a" textLength="23.86" lengthAdjust="spacingAndGlyphs">Sprr2d</text>
<text x="590.99" y="116.92" font-size="7.5" font-style="italic" fill="#1a1a1a" textLength="21.21" lengthAdjust="spacingAndGlyphs">Sprr2i</text>
<text x="588.34" y="124.09" font-size="7.5" font-style="italic" fill="#1a1a1a" textLength="23.86" lengthAdjust="spacingAndGlyphs">Sprr1a</text>
<text x="588.34" y="131.26" font-size="7.5" font-style="italic" fill="#1a1a1a" textLength="23.86" lengthAdjust="spacingAndGlyphs">Sprr2g</text>
<text x="588.34" y="138.43" font-size="7.5" font-style="italic" fill="#1a1a1a" textLength="23.86" lengthAdjust="spacingAndGlyphs">Sprr1b</text>
<text x="590.55" y="145.60" font-size="7.5" font-style="italic" fill="#1a1a1a" textLength="21.65" lengthAdjust="spacingAndGlyphs">Sprr2f</text>
<text x="583.92" y="152.77" font-size="7.5" font-style="italic" fill="#1a1a1a" textLength="28.28" lengthAdjust="spacingAndGlyphs">Sprr2a1</text>
<text x="585.25" y="159.93" font-size="7.5" font-style="italic" fill="#1a1a1a" textLength="26.95" lengthAdjust="spacingAndGlyphs">sprr2a2</text>
<text x="593.20" y="167.10" font-size="7.5" font-style="italic" fill="#1a1a1a" textLength="19.00" lengthAdjust="spacingAndGlyphs">Krt6a</text>
<text x="593.20" y="174.27" font-size="7.5" font-style="italic" fill="#1a1a1a" textLength="19.00" lengthAdjust="spacingAndGlyphs">Krt6b</text>
<text x="593.20" y="181.44" font-size="7.5" font-style="italic" fill="#1a1a1a" textLength="19.00" lengthAdjust="spacingAndGlyphs">Krt16</text>
<text x="593.20" y="188.61" font-size="7.5" font-style="italic" fill="#1a1a1a" textLength="19.00" lengthAdjust="spacingAndGlyphs">Krt17</text>
<text x="593.20" y="195.78" font-size="7.5" font-style="italic" fill="#1a1a1a" textLength="19.00" lengthAdjust="spacingAndGlyphs">Krt14</text>
<text x="597.62" y="202.95" font-size="7.5" font-style="italic" fill="#1a1a1a" textLength="14.58" lengthAdjust="spacingAndGlyphs">Krt1</text>
<text x="588.78" y="210.12" font-size="7.5" font-style="italic" fill="#1a1a1a" textLength="23.42" lengthAdjust="spacingAndGlyphs">Krtdap</text>
<text x="593.20" y="217.29" font-size="7.5" font-style="italic" fill="#1a1a1a" textLength="19.00" lengthAdjust="spacingAndGlyphs">Krt10</text>
<text x="592.31" y="224.46" font-size="7.5" font-style="italic" fill="#1a1a1a" textLength="19.89" lengthAdjust="spacingAndGlyphs">Klk13</text>
<text x="592.31" y="231.63" font-size="7.5" font-style="italic" fill="#1a1a1a" textLength="19.89" lengthAdjust="spacingAndGlyphs">Klk10</text>
<text x="592.90" y="238.80" font-size="7.5" font-style="italic" fill="#1a1a1a" textLength="19.30" lengthAdjust="spacingAndGlyphs">Klk11</text>
<text x="592.31" y="245.97" font-size="7.5" font-style="italic" fill="#1a1a1a" textLength="19.89" lengthAdjust="spacingAndGlyphs">Klk14</text>
<text x="591.88" y="253.14" font-size="7.5" font-style="italic" fill="#1a1a1a" textLength="20.32" lengthAdjust="spacingAndGlyphs">Tgm1</text>
<text x="595.41" y="260.31" font-size="7.5" font-style="italic" fill="#1a1a1a" textLength="16.79" lengthAdjust="spacingAndGlyphs">Cnfn</text>
<text x="593.20" y="267.48" font-size="7.5" font-style="italic" fill="#1a1a1a" textLength="19.00" lengthAdjust="spacingAndGlyphs">Cdh3</text>
<text x="596.73" y="274.65" font-size="7.5" font-style="italic" fill="#1a1a1a" textLength="15.47" lengthAdjust="spacingAndGlyphs">Evpl</text>
<text x="590.11" y="281.82" font-size="7.5" font-style="italic" fill="#1a1a1a" textLength="22.09" lengthAdjust="spacingAndGlyphs">Mmp9</text>
<line x1="622.50" y1="282.40" x2="622.50" y2="286.60" stroke="#858585" stroke-width="0.85" />
<text x="616.65" y="295.00" font-size="7.42" font-weight="normal" fill="#231f20" textLength="11.50" lengthAdjust="spacingAndGlyphs">3 d</text>
<text x="600.25" y="302.50" font-size="7.63" font-weight="normal" fill="#231f20" textLength="44.70" lengthAdjust="spacingAndGlyphs">postinfection</text>
<rect x="652.70" y="23.90" width="15.00" height="61.80" fill="url(#gd)" />
<rect x="652.7" y="23.9" width="15" height="61.8" fill="none" stroke="#6d6e71" stroke-width="0.4"/>
<line x1="665.70" y1="44.60" x2="667.70" y2="44.60" stroke="#444" stroke-width="0.5" />
<line x1="665.70" y1="65.20" x2="667.70" y2="65.20" stroke="#444" stroke-width="0.5" />
<text x="672.10" y="26.50" font-size="7" text-anchor="start" fill="#231f20" >2</text>
<text x="672.10" y="47.10" font-size="7" text-anchor="start" fill="#231f20" >0</text>
<text x="669.90" y="67.70" font-size="7" text-anchor="start" fill="#231f20"  textLength="8.54" lengthAdjust="spacingAndGlyphs">−2</text>
<text x="669.90" y="88.30" font-size="7" text-anchor="start" fill="#231f20"  textLength="8.54" lengthAdjust="spacingAndGlyphs">−4</text>
<text x="652.05" y="18.20" font-size="8.06" font-weight="normal" fill="#231f20" textLength="33.40" lengthAdjust="spacingAndGlyphs">log<tspan font-size="5" dy="1.8">2</tspan><tspan dy="-1.8"> scale</tspan></text>
<text x="0.30" y="207.90" font-size="11.3" font-weight="bold" fill="#000" class="pl" textLength="6.50" lengthAdjust="spacingAndGlyphs">e</text>
<text x="41.45" y="207.90" font-size="8.69" font-weight="normal" fill="#231f20" textLength="26.60" lengthAdjust="spacingAndGlyphs">Day 19</text>
<line x1="31.00" y1="223.75" x2="31.00" y2="343.10" stroke="#c8c8c8" stroke-width="1.7" />
<line x1="26.40" y1="343.10" x2="31.00" y2="343.10" stroke="#666" stroke-width="0.85" />
<text x="22.40" y="345.60" font-size="7.0" text-anchor="end" fill="#231f20" >1</text>
<line x1="26.40" y1="326.05" x2="31.00" y2="326.05" stroke="#666" stroke-width="0.85" />
<text x="22.40" y="328.55" font-size="7.0" text-anchor="end" fill="#231f20" >2</text>
<line x1="26.40" y1="309.00" x2="31.00" y2="309.00" stroke="#666" stroke-width="0.85" />
<text x="22.40" y="311.50" font-size="7.0" text-anchor="end" fill="#231f20" >3</text>
<line x1="26.40" y1="291.95" x2="31.00" y2="291.95" stroke="#666" stroke-width="0.85" />
<text x="22.40" y="294.45" font-size="7.0" text-anchor="end" fill="#231f20" >4</text>
<line x1="26.40" y1="274.90" x2="31.00" y2="274.90" stroke="#666" stroke-width="0.85" />
<text x="22.40" y="277.40" font-size="7.0" text-anchor="end" fill="#231f20" >5</text>
<line x1="26.40" y1="257.85" x2="31.00" y2="257.85" stroke="#666" stroke-width="0.85" />
<text x="22.40" y="260.35" font-size="7.0" text-anchor="end" fill="#231f20" >6</text>
<line x1="26.40" y1="240.80" x2="31.00" y2="240.80" stroke="#666" stroke-width="0.85" />
<text x="22.40" y="243.30" font-size="7.0" text-anchor="end" fill="#231f20" >7</text>
<line x1="26.40" y1="223.75" x2="31.00" y2="223.75" stroke="#666" stroke-width="0.85" />
<text x="22.40" y="226.25" font-size="7.0" text-anchor="end" fill="#231f20" >8</text>
<line x1="30.90" y1="343.50" x2="78.70" y2="343.50" stroke="#858585" stroke-width="0.85" />
<rect x="31.00" y="306.60" width="47.70" height="15.10" fill="#dcdcdc" />
<line x1="31.00" y1="306.60" x2="78.70" y2="306.60" stroke="#000" stroke-width="1.45" stroke-dasharray="1.5,2.2"/>
<line x1="31.00" y1="321.70" x2="78.70" y2="321.70" stroke="#000" stroke-width="1.45" stroke-dasharray="1.5,2.2"/>
<text x="80.05" y="317.60" font-size="7.42" font-weight="normal" fill="#231f20" textLength="9.60" lengthAdjust="spacingAndGlyphs">DL</text>
<line x1="42.50" y1="343.10" x2="42.50" y2="347.70" stroke="#858585" stroke-width="0.85" />
<line x1="66.50" y1="343.10" x2="66.50" y2="347.70" stroke="#858585" stroke-width="0.85" />
<text x="49.55" y="238.30" font-size="7.63" font-weight="normal" fill="#231f20" textLength="10.20" lengthAdjust="spacingAndGlyphs">NS</text>
<line x1="42.80" y1="241.50" x2="66.70" y2="241.50" stroke="#555" stroke-width="0.85" />
<text transform="translate(13.00,283.90) rotate(-90)" font-size="8.2" text-anchor="middle" fill="#231f20" textLength="80.00" lengthAdjust="spacingAndGlyphs">log<tspan font-size="5" dy="1.8">10</tspan><tspan dy="-1.8">(CFU g</tspan><tspan font-size="5" dy="-2.8">−1</tspan><tspan dy="2.8"> tissue)</tspan></text>
<text transform="translate(47.3,357) rotate(-45)" font-size="7.2" text-anchor="end" fill="#231f20" textLength="32" lengthAdjust="spacingAndGlyphs">101<tspan font-size="4.5" dy="-2.6">WT</tspan><tspan dy="2.6"> I.d.</tspan></text>
<text transform="translate(70.8,357.2) rotate(-45)" font-size="7.2" text-anchor="end" fill="#231f20" textLength="28" lengthAdjust="spacingAndGlyphs"><tspan font-style="italic">ece1</tspan>Δ/Δ</text>
<line x1="42.90" y1="259.60" x2="42.90" y2="265.60" stroke="#888" stroke-width="0.7" />
<line x1="35.20" y1="262.60" x2="50.60" y2="262.60" stroke="#888" stroke-width="1.0" />
<circle cx="42.90" cy="258.70" r="2.0" fill="#2b2f8f"/>
<circle cx="38.90" cy="262.60" r="2.0" fill="#2b2f8f"/>
<circle cx="46.50" cy="262.60" r="2.0" fill="#2b2f8f"/>
<circle cx="42.90" cy="267.20" r="2.0" fill="#2b2f8f"/>
<circle cx="66.60" cy="255.10" r="1.75" fill="white" stroke="#3a3fa5" stroke-width="0.7"/>
<circle cx="60.20" cy="261.20" r="1.75" fill="white" stroke="#3a3fa5" stroke-width="0.7"/>
<circle cx="64.70" cy="261.20" r="1.75" fill="white" stroke="#3a3fa5" stroke-width="0.7"/>
<circle cx="68.50" cy="264.00" r="1.75" fill="white" stroke="#3a3fa5" stroke-width="0.7"/>
<circle cx="72.80" cy="265.50" r="1.75" fill="white" stroke="#3a3fa5" stroke-width="0.7"/>
<circle cx="60.20" cy="267.40" r="1.75" fill="white" stroke="#3a3fa5" stroke-width="0.7"/>
<circle cx="64.70" cy="267.40" r="1.75" fill="white" stroke="#3a3fa5" stroke-width="0.7"/>
<circle cx="68.80" cy="267.60" r="1.75" fill="white" stroke="#3a3fa5" stroke-width="0.7"/>
<circle cx="72.80" cy="269.50" r="1.75" fill="white" stroke="#3a3fa5" stroke-width="0.7"/>
<circle cx="64.50" cy="272.50" r="1.75" fill="white" stroke="#3a3fa5" stroke-width="0.7"/>
<circle cx="68.50" cy="273.60" r="1.75" fill="white" stroke="#3a3fa5" stroke-width="0.7"/>
<circle cx="66.70" cy="299.90" r="1.75" fill="white" stroke="#3a3fa5" stroke-width="0.7"/>
<line x1="66.70" y1="266.00" x2="66.70" y2="272.00" stroke="#444" stroke-width="0.7" />
<line x1="58.90" y1="269.00" x2="74.50" y2="269.00" stroke="#444" stroke-width="0.9" />
<text x="101.50" y="207.50" font-size="12.2" font-weight="bold" fill="#000" class="pl" textLength="4.50" lengthAdjust="spacingAndGlyphs">f</text>
<text x="139.35" y="207.90" font-size="8.59" font-weight="normal" fill="#231f20" textLength="21.70" lengthAdjust="spacingAndGlyphs">Day 7</text>
<circle cx="216.10" cy="204.60" r="2.8" fill="#2b2f8f"/>
<circle cx="229.50" cy="204.60" r="2.5" fill="white" stroke="#3a3fa5" stroke-width="0.7"/>
<text x="181.45" y="217.30" font-size="7.63" font-weight="normal" fill="#231f20" textLength="37.90" lengthAdjust="spacingAndGlyphs">101<tspan font-size="4.3" dy="-3.8">WT_mcherry</tspan></text>
<text x="226.55" y="217.30" font-size="7.63" font-weight="normal" fill="#231f20" textLength="27.40" lengthAdjust="spacingAndGlyphs">ece1Δ/Δ</text>
<text x="215.35" y="225.90" font-size="7.63" font-weight="normal" fill="#231f20" textLength="18.50" lengthAdjust="spacingAndGlyphs">1 : 50</text>
<line x1="132.50" y1="223.30" x2="132.50" y2="343.00" stroke="#858585" stroke-width="0.85" />
<line x1="127.90" y1="343.50" x2="132.50" y2="343.50" stroke="#858585" stroke-width="0.85" />
<text x="123.90" y="345.50" font-size="7.0" text-anchor="end" fill="#231f20" >1</text>
<line x1="127.90" y1="325.50" x2="132.50" y2="325.50" stroke="#858585" stroke-width="0.85" />
<text x="123.90" y="328.40" font-size="7.0" text-anchor="end" fill="#231f20" >2</text>
<line x1="127.90" y1="308.50" x2="132.50" y2="308.50" stroke="#858585" stroke-width="0.85" />
<text x="123.90" y="311.30" font-size="7.0" text-anchor="end" fill="#231f20" >3</text>
<line x1="127.90" y1="291.50" x2="132.50" y2="291.50" stroke="#858585" stroke-width="0.85" />
<text x="123.90" y="294.20" font-size="7.0" text-anchor="end" fill="#231f20" >4</text>
<line x1="127.90" y1="274.50" x2="132.50" y2="274.50" stroke="#858585" stroke-width="0.85" />
<text x="123.90" y="277.10" font-size="7.0" text-anchor="end" fill="#231f20" >5</text>
<line x1="127.90" y1="257.50" x2="132.50" y2="257.50" stroke="#858585" stroke-width="0.85" />
<text x="123.90" y="260.00" font-size="7.0" text-anchor="end" fill="#231f20" >6</text>
<line x1="127.90" y1="240.50" x2="132.50" y2="240.50" stroke="#858585" stroke-width="0.85" />
<text x="123.90" y="242.90" font-size="7.0" text-anchor="end" fill="#231f20" >7</text>
<line x1="127.90" y1="223.50" x2="132.50" y2="223.50" stroke="#858585" stroke-width="0.85" />
<text x="123.90" y="225.80" font-size="7.0" text-anchor="end" fill="#231f20" >8</text>
<line x1="132.50" y1="343.50" x2="228.00" y2="343.50" stroke="#858585" stroke-width="0.85" />
<line x1="132.50" y1="311.00" x2="228.00" y2="311.00" stroke="#000" stroke-width="1.45" stroke-dasharray="1.5,2.2"/>
<text x="229.65" y="313.60" font-size="7.42" font-weight="normal" fill="#231f20" textLength="9.30" lengthAdjust="spacingAndGlyphs">DL</text>
<line x1="154.50" y1="343.00" x2="154.50" y2="348.00" stroke="#858585" stroke-width="0.85" />
<line x1="205.50" y1="343.00" x2="205.50" y2="348.00" stroke="#858585" stroke-width="0.85" />
<text x="142.75" y="248.20" font-size="7.74" font-weight="normal" fill="#231f20" textLength="24.20" lengthAdjust="spacingAndGlyphs">0.0017</text>
<line x1="144.60" y1="250.50" x2="163.80" y2="250.50" stroke="#555" stroke-width="0.85" />
<text x="199.65" y="252.50" font-size="7.63" font-weight="normal" fill="#231f20" textLength="10.70" lengthAdjust="spacingAndGlyphs">NS</text>
<line x1="195.30" y1="255.50" x2="215.00" y2="255.50" stroke="#555" stroke-width="0.85" />
<text transform="translate(114.40,284.20) rotate(-90)" font-size="8.2" text-anchor="middle" fill="#231f20" textLength="80.00" lengthAdjust="spacingAndGlyphs">log<tspan font-size="5" dy="1.8">10</tspan><tspan dy="-1.8">(CFU g</tspan><tspan font-size="5" dy="-2.8">−1</tspan><tspan dy="2.8"> tissue)</tspan></text>
<text transform="translate(160,354.5) rotate(-45)" font-size="7.4" text-anchor="end" fill="#231f20" textLength="27" lengthAdjust="spacingAndGlyphs"><tspan font-style="italic">Il17rc</tspan><tspan font-size="4.5" dy="-2.6">−/−</tspan></text>
<text transform="translate(210.5,354.5) rotate(-45)" font-size="7.4" text-anchor="end" fill="#231f20" textLength="27" lengthAdjust="spacingAndGlyphs"><tspan font-style="italic">Il17rc</tspan><tspan font-size="4.5" dy="-2.6">−/−</tspan></text>
<line x1="145.00" y1="261.70" x2="163.80" y2="279.80" stroke="#000" stroke-width="0.8" />
<line x1="145.00" y1="264.40" x2="163.80" y2="282.30" stroke="#000" stroke-width="0.8" />
<line x1="145.00" y1="267.00" x2="163.80" y2="310.70" stroke="#000" stroke-width="0.8" />
<line x1="145.00" y1="271.20" x2="163.80" y2="285.70" stroke="#000" stroke-width="0.8" />
<line x1="145.00" y1="275.10" x2="163.80" y2="279.80" stroke="#000" stroke-width="0.8" />
<line x1="145.00" y1="284.50" x2="163.80" y2="295.30" stroke="#000" stroke-width="0.8" />
<line x1="145.00" y1="288.70" x2="163.80" y2="300.00" stroke="#000" stroke-width="0.8" />
<line x1="145.00" y1="271.20" x2="163.80" y2="292.60" stroke="#000" stroke-width="0.8" />
<circle cx="163.80" cy="279.80" r="1.7" fill="white" stroke="#3a3fa5" stroke-width="0.7"/>
<circle cx="163.80" cy="282.30" r="1.7" fill="white" stroke="#3a3fa5" stroke-width="0.7"/>
<circle cx="163.80" cy="310.70" r="1.7" fill="white" stroke="#3a3fa5" stroke-width="0.7"/>
<circle cx="163.80" cy="285.70" r="1.7" fill="white" stroke="#3a3fa5" stroke-width="0.7"/>
<circle cx="163.80" cy="279.80" r="1.7" fill="white" stroke="#3a3fa5" stroke-width="0.7"/>
<circle cx="163.80" cy="295.30" r="1.7" fill="white" stroke="#3a3fa5" stroke-width="0.7"/>
<circle cx="163.80" cy="300.00" r="1.7" fill="white" stroke="#3a3fa5" stroke-width="0.7"/>
<circle cx="163.80" cy="292.60" r="1.7" fill="white" stroke="#3a3fa5" stroke-width="0.7"/>
<circle cx="145.00" cy="261.70" r="2.0" fill="#2b2f8f"/>
<circle cx="145.00" cy="264.40" r="2.0" fill="#2b2f8f"/>
<circle cx="145.00" cy="267.00" r="2.0" fill="#2b2f8f"/>
<circle cx="145.00" cy="271.20" r="2.0" fill="#2b2f8f"/>
<circle cx="145.00" cy="275.10" r="2.0" fill="#2b2f8f"/>
<circle cx="145.00" cy="284.50" r="2.0" fill="#2b2f8f"/>
<circle cx="145.00" cy="288.70" r="2.0" fill="#2b2f8f"/>
<circle cx="145.00" cy="271.20" r="2.0" fill="#2b2f8f"/>
<line x1="195.80" y1="267.40" x2="215.00" y2="268.00" stroke="#000" stroke-width="0.8" />
<line x1="195.80" y1="269.10" x2="215.00" y2="268.30" stroke="#000" stroke-width="0.8" />
<line x1="195.80" y1="271.70" x2="215.00" y2="274.40" stroke="#000" stroke-width="0.8" />
<line x1="195.80" y1="280.20" x2="215.00" y2="277.00" stroke="#000" stroke-width="0.8" />
<line x1="195.80" y1="280.20" x2="215.00" y2="287.20" stroke="#000" stroke-width="0.8" />
<line x1="195.80" y1="302.80" x2="215.00" y2="302.80" stroke="#000" stroke-width="0.8" />
<line x1="195.80" y1="310.70" x2="215.00" y2="274.40" stroke="#000" stroke-width="0.8" />
<circle cx="215.00" cy="268.00" r="1.7" fill="white" stroke="#3a3fa5" stroke-width="0.7"/>
<circle cx="215.00" cy="268.30" r="1.7" fill="white" stroke="#3a3fa5" stroke-width="0.7"/>
<circle cx="215.00" cy="274.40" r="1.7" fill="white" stroke="#3a3fa5" stroke-width="0.7"/>
<circle cx="215.00" cy="277.00" r="1.7" fill="white" stroke="#3a3fa5" stroke-width="0.7"/>
<circle cx="215.00" cy="287.20" r="1.7" fill="white" stroke="#3a3fa5" stroke-width="0.7"/>
<circle cx="215.00" cy="302.80" r="1.7" fill="white" stroke="#3a3fa5" stroke-width="0.7"/>
<circle cx="215.00" cy="274.40" r="1.7" fill="white" stroke="#3a3fa5" stroke-width="0.7"/>
<circle cx="195.80" cy="267.40" r="2.0" fill="#2b2f8f"/>
<circle cx="195.80" cy="269.10" r="2.0" fill="#2b2f8f"/>
<circle cx="195.80" cy="271.70" r="2.0" fill="#2b2f8f"/>
<circle cx="195.80" cy="280.20" r="2.0" fill="#2b2f8f"/>
<circle cx="195.80" cy="280.20" r="2.0" fill="#2b2f8f"/>
<circle cx="195.80" cy="302.80" r="2.0" fill="#2b2f8f"/>
<circle cx="195.80" cy="310.70" r="2.0" fill="#2b2f8f"/>
<line x1="311.50" y1="219.00" x2="311.50" y2="276.70" stroke="#858585" stroke-width="0.85" />
<line x1="311.50" y1="286.30" x2="311.50" y2="343.40" stroke="#858585" stroke-width="0.85" />
<line x1="306.80" y1="219.50" x2="311.30" y2="219.50" stroke="#858585" stroke-width="0.85" />
<text x="302.30" y="221.50" font-size="7" text-anchor="end" fill="#231f20"  textLength="12.50" lengthAdjust="spacingAndGlyphs">130</text>
<line x1="306.80" y1="238.50" x2="311.30" y2="238.50" stroke="#858585" stroke-width="0.85" />
<text x="302.30" y="240.73" font-size="7" text-anchor="end" fill="#231f20"  textLength="8.33" lengthAdjust="spacingAndGlyphs">90</text>
<line x1="306.80" y1="257.50" x2="311.30" y2="257.50" stroke="#858585" stroke-width="0.85" />
<text x="302.30" y="259.97" font-size="7" text-anchor="end" fill="#231f20"  textLength="8.33" lengthAdjust="spacingAndGlyphs">50</text>
<line x1="308.00" y1="276.50" x2="314.30" y2="276.50" stroke="#858585" stroke-width="0.85" />
<text x="302.30" y="279.40" font-size="7" text-anchor="end" fill="#231f20"  textLength="8.33" lengthAdjust="spacingAndGlyphs">10</text>
<line x1="306.80" y1="314.50" x2="311.30" y2="314.50" stroke="#858585" stroke-width="0.85" />
<text x="302.30" y="317.30" font-size="7" text-anchor="end" fill="#231f20" >5</text>
<line x1="306.80" y1="343.50" x2="311.30" y2="343.50" stroke="#858585" stroke-width="0.85" />
<text x="302.30" y="345.90" font-size="7" text-anchor="end" fill="#231f20" >0</text>
<line x1="308.00" y1="286.50" x2="314.30" y2="286.50" stroke="#858585" stroke-width="0.85" />
<text x="302.30" y="288.80" font-size="7" text-anchor="end" fill="#231f20"  textLength="8.33" lengthAdjust="spacingAndGlyphs">10</text>
<line x1="306.30" y1="343.50" x2="360.30" y2="343.50" stroke="#858585" stroke-width="0.85" />
<line x1="325.50" y1="343.40" x2="325.50" y2="347.70" stroke="#858585" stroke-width="0.85" />
<line x1="345.50" y1="343.40" x2="345.50" y2="347.70" stroke="#858585" stroke-width="0.85" />
<line x1="311.30" y1="337.70" x2="360.00" y2="337.70" stroke="#000" stroke-width="1.45" stroke-dasharray="1.5,2.2"/>
<text x="323.55" y="219.00" font-size="7.53" font-weight="normal" fill="#231f20" textLength="24.50" lengthAdjust="spacingAndGlyphs">0.0012</text>
<line x1="325.20" y1="220.50" x2="345.80" y2="220.50" stroke="#555" stroke-width="0.85" />
<text transform="translate(275.30,284.40) rotate(-90)" font-size="8.2" text-anchor="middle" fill="#231f20" textLength="47.00" lengthAdjust="spacingAndGlyphs">Ratio 101<tspan font-size="5" dy="-2.8">WT</tspan></text>
<text transform="translate(284.30,282.40) rotate(-90)" font-size="8.2" text-anchor="middle" fill="#231f20" textLength="105.00" lengthAdjust="spacingAndGlyphs">(CFU g<tspan font-size="5" dy="-2.8">−1</tspan><tspan dy="2.8">):</tspan><tspan font-style="italic">ece1</tspan><tspan font-size="5" dy="-2.8">Δ/Δ</tspan><tspan dy="2.8"> (CFU g</tspan><tspan font-size="5" dy="-2.8">−1</tspan><tspan dy="2.8">)</tspan></text>
<line x1="325.20" y1="260.40" x2="325.20" y2="275.50" stroke="#999" stroke-width="0.7" />
<line x1="321.60" y1="260.40" x2="328.80" y2="260.40" stroke="#999" stroke-width="0.7" />
<line x1="321.60" y1="275.50" x2="328.80" y2="275.50" stroke="#999" stroke-width="0.7" />
<line x1="318.30" y1="268.40" x2="332.10" y2="268.40" stroke="#3a3a3a" stroke-width="0.9" />
<circle cx="324.90" cy="227.00" r="1.4" fill="#000"/>
<circle cx="324.90" cy="260.40" r="1.4" fill="#000"/>
<circle cx="322.40" cy="274.30" r="1.4" fill="#000"/>
<circle cx="327.50" cy="276.30" r="1.4" fill="#000"/>
<circle cx="322.60" cy="313.70" r="1.4" fill="#000"/>
<circle cx="327.50" cy="314.40" r="1.4" fill="#000"/>
<circle cx="325.00" cy="333.00" r="1.4" fill="#000"/>
<line x1="345.80" y1="334.20" x2="345.80" y2="340.00" stroke="#999" stroke-width="0.7" />
<line x1="342.00" y1="334.40" x2="349.60" y2="334.40" stroke="#999" stroke-width="0.7" />
<circle cx="345.80" cy="327.00" r="1.35" fill="#000"/>
<circle cx="345.80" cy="334.00" r="1.35" fill="#000"/>
<circle cx="340.00" cy="337.60" r="1.35" fill="#000"/>
<circle cx="343.30" cy="337.60" r="1.35" fill="#000"/>
<circle cx="347.30" cy="337.60" r="1.35" fill="#000"/>
<circle cx="351.40" cy="337.60" r="1.35" fill="#000"/>
<circle cx="345.80" cy="341.00" r="1.35" fill="#000"/>
<circle cx="345.80" cy="343.40" r="1.35" fill="#000"/>
<text transform="translate(329,354.8) rotate(-45)" font-size="7.4" text-anchor="end" fill="#231f20" textLength="27" lengthAdjust="spacingAndGlyphs"><tspan font-style="italic">Il17rc</tspan><tspan font-size="4.5" dy="-2.6">−/−</tspan></text>
<text transform="translate(350,354.8) rotate(-45)" font-size="7.4" text-anchor="end" fill="#231f20" textLength="27" lengthAdjust="spacingAndGlyphs"><tspan font-style="italic">Il17rc</tspan><tspan font-size="4.5" dy="-2.6">−/−</tspan></text>
</svg></body></html>
